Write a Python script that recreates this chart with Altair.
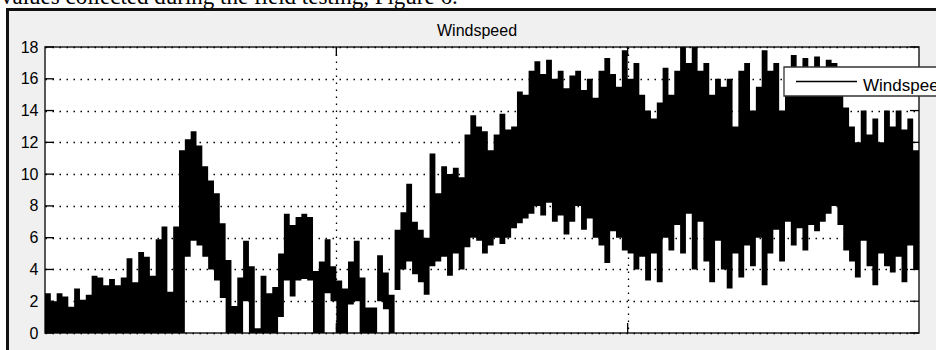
import altair as alt
import pandas as pd

# ---- data (envelope of the dense wind-speed trace) ----
bin_start = list(range(0, 3000, 20))  # sample index at start of each bin
wind_low = [
    0, 0, 0, 0, 0, 0, 0, 0, 0, 0,
    0, 0, 0, 0, 0, 0, 0, 0, 0, 0,
    0, 0, 0, 0, 4.8, 5.8, 5.5, 4.8, 4.0, 3.3,
    2.2, 0, 0, 0, 2.0, 0, 0, 0, 0, 0,
    1.0, 3.3, 2.3, 3.3, 3.4, 3.3, 0, 0, 2.5, 2.0,
    0, 0, 1.8, 2.0, 0, 0, 0, 2.0, 1.5, 0,
    2.7, 4.0, 4.5, 3.7, 3.2, 2.4, 4.2, 4.5, 4.8, 3.6,
    5.0, 4.0, 5.4, 6.0, 5.8, 5.0, 5.5, 6.0, 5.6, 6.0,
    6.6, 6.9, 7.2, 7.5, 8.0, 7.4, 8.2, 7.0, 7.4, 6.2,
    7.0, 8.0, 6.5, 7.2, 6.0, 5.5, 4.4, 6.4, 6.0, 5.2,
    5.0, 4.0, 4.8, 3.3, 5.0, 3.2, 6.0, 5.2, 6.8, 5.0,
    7.5, 4.0, 7.0, 4.5, 3.2, 5.8, 4.0, 2.8, 5.0, 3.5,
    5.5, 4.2, 6.0, 3.0, 5.0, 6.5, 4.5, 7.0, 5.5, 6.6,
    5.2, 6.8, 6.4, 7.0, 7.5, 8.0, 6.8, 5.2, 4.5, 3.5,
    5.8, 4.2, 3.0, 5.0, 4.2, 3.8, 4.8, 3.2, 5.5, 4.0,
]
wind_high = [
    2.5, 2.0, 2.5, 2.3, 1.65, 2.8, 2.1, 2.4, 3.6, 3.5,
    3.0, 3.4, 3.0, 3.5, 4.7, 3.2, 5.1, 4.8, 3.6, 5.9,
    6.7, 2.6, 6.7, 11.5, 12.2, 12.7, 11.8, 10.5, 9.6, 8.8,
    6.9, 4.6, 1.7, 3.5, 5.8, 4.2, 0.3, 3.6, 2.5, 2.9,
    5.0, 7.5, 6.8, 7.3, 7.5, 7.3, 3.9, 4.5, 5.9, 4.2,
    3.3, 2.8, 4.5, 5.8, 3.5, 1.6, 1.6, 4.9, 3.8, 2.4,
    6.5, 7.6, 9.4, 7.0, 6.5, 6.0, 11.3, 8.8, 10.5, 10.0,
    10.4, 9.8, 12.5, 13.7, 13.0, 12.7, 11.5, 12.5, 13.8, 12.8,
    13.0, 15.2, 15.0, 16.5, 17.1, 16.3, 17.2, 16.0, 16.5, 15.4,
    16.2, 16.5, 15.3, 16.0, 14.8, 16.5, 17.3, 16.3, 15.5, 17.8,
    16.0, 17.0, 15.0, 14.0, 13.5, 14.5, 16.7, 15.0, 16.5, 18.0,
    17.0, 18.0, 16.5, 17.0, 15.0, 16.0, 15.5, 16.0, 13.0, 16.5,
    17.0, 14.0, 15.5, 17.8, 16.5, 17.0, 14.0, 16.0, 17.5, 15.5,
    17.3, 15.5, 17.4, 16.5, 17.2, 17.0, 16.0, 14.2, 13.0, 12.0,
    14.0, 12.5, 13.5, 12.0, 14.0, 13.0, 14.0, 12.8, 13.5, 11.5,
]
x_domain = [0, 3000]
x_grid_values = [1000, 2000]
y_tick_values = [0, 2, 4, 6, 8, 10, 12, 14, 16, 18]
title_text = "Windspeed"
legend_label = "Windspeed"
caption_text = "values collected during the field testing, Figure 6."

# ---- tables ----
band = pd.DataFrame({"x": bin_start + [x_domain[1]],
                     "lo": wind_low + [wind_low[-1]],
                     "hi": wind_high + [wind_high[-1]]})
yticks = pd.DataFrame({"v": y_tick_values})
xgrid = pd.DataFrame({"v": x_grid_values})
one = pd.DataFrame({"label": [legend_label], "title": [title_text], "cap": [caption_text]})

W, H = 874, 286
FONT = "Liberation Sans"
xs = alt.Scale(domain=x_domain, nice=False, zero=False)
ys = alt.Scale(domain=[0, 18], nice=False)
xaxis = alt.Axis(values=x_grid_values, grid=True, gridDash=[1.5, 5.5], gridColor="#000",
                 gridWidth=1.3, gridOpacity=1, labels=False, ticks=False, domain=False,
                 title=None)
yaxis = alt.Axis(values=y_tick_values, grid=True, gridDash=[1.5, 5.5], gridColor="#000",
                 gridWidth=1.3, gridOpacity=1, ticks=False, domain=False, labelPadding=7,
                 labelFontSize=16, labelFont=FONT, labelColor="#000", title=None)

# outer chrome (document page / figure window border)
chrome_white_top = alt.Chart(one).mark_rect(color="white").encode(
    x=alt.value(-45), x2=alt.value(W + 17), y=alt.value(-47), y2=alt.value(-39))
chrome_white_left = alt.Chart(one).mark_rect(color="white").encode(
    x=alt.value(-45), x2=alt.value(-39), y=alt.value(-47), y2=alt.value(H + 17))
chrome_black_top = alt.Chart(one).mark_rect(color="#111").encode(
    x=alt.value(-39), x2=alt.value(W + 17), y=alt.value(-39), y2=alt.value(-36))
chrome_black_left = alt.Chart(one).mark_rect(color="#111").encode(
    x=alt.value(-39), x2=alt.value(-36), y=alt.value(-39), y2=alt.value(H + 17))
caption = alt.Chart(one).mark_text(align="left", baseline="alphabetic", font="Liberation Serif",
                                   fontSize=23, color="#000").encode(
    x=alt.value(-44), y=alt.value(-43), text="cap:N")

title = alt.Chart(one).mark_text(align="center", baseline="alphabetic", font=FONT,
                                 fontSize=16, color="#000").encode(
    x=alt.value(432), y=alt.value(-11), text="title:N")

area = alt.Chart(band).mark_area(interpolate="step-after", color="#000", opacity=1).encode(
    x=alt.X("x:Q", scale=xs, axis=xaxis),
    y=alt.Y("lo:Q", scale=ys, axis=yaxis),
    y2="hi:Q",
)

tick_l = alt.Chart(yticks).mark_rule(color="#000", strokeWidth=1.3).encode(
    y=alt.Y("v:Q", scale=ys, axis=yaxis), x=alt.value(0), x2=alt.value(9))
tick_r = alt.Chart(yticks).mark_rule(color="#000", strokeWidth=1.3).encode(
    y=alt.Y("v:Q", scale=ys, axis=yaxis), x=alt.value(W - 9), x2=alt.value(W))
tick_t = alt.Chart(xgrid).mark_rule(color="#000", strokeWidth=1.3).encode(
    x=alt.X("v:Q", scale=xs, axis=xaxis), y=alt.value(0), y2=alt.value(9))
tick_b = alt.Chart(xgrid).mark_rule(color="#000", strokeWidth=1.3).encode(
    x=alt.X("v:Q", scale=xs, axis=xaxis), y=alt.value(H - 10), y2=alt.value(H))

leg_box = alt.Chart(one).mark_rect(fill="white", stroke="#333", strokeWidth=1.3).encode(
    x=alt.value(739), x2=alt.value(W + 40), y=alt.value(20), y2=alt.value(49))
leg_line = alt.Chart(one).mark_rule(color="#000", strokeWidth=1.3).encode(
    x=alt.value(751), x2=alt.value(812), y=alt.value(34.5))
leg_text = alt.Chart(one).mark_text(align="left", baseline="alphabetic", font=FONT,
                                    fontSize=17, color="#000").encode(
    x=alt.value(818), y=alt.value(44), text="label:N")

chart = alt.layer(
    area, tick_l, tick_r, tick_t, tick_b,
    chrome_white_top, chrome_white_left, chrome_black_top, chrome_black_left, caption,
    title, leg_box, leg_line, leg_text,
).properties(
    width=W, height=H,
    autosize=alt.AutoSizeParams(type="none"),
    padding={"left": 45, "top": 47, "right": 17, "bottom": 17},
    background="#f0f0f0",
).configure_view(fill="white", stroke="#222", strokeWidth=1.5)

chart.save("out.html", embed_options={"renderer": "svg", "actions": False})
